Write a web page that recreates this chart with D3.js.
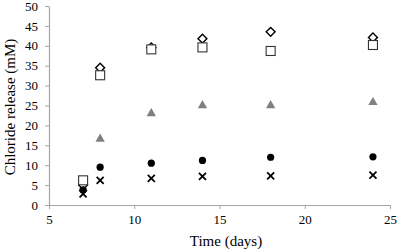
<!DOCTYPE html>
<html>
<head>
<meta charset="utf-8">
<script src="https://cdn.jsdelivr.net/npm/d3@7"></script>
<style>
  body { margin: 0; background: #fff; }
  text { font-family: "Liberation Serif", "Times New Roman", serif; fill: #000; }
</style>
</head>
<body>
<div id="chart"></div>
<script>
// data
var days = [7, 8, 11, 14, 18, 24];
var diamondVals = [5, 34.5, 39.6, 41.8, 43.5, 42.1];
var squareVals = [6.2, 32.6, 39.1, 39.6, 38.7, 40.2];
var triangleVals = [4.2, 16.6, 23, 25, 25, 25.8];
var circleVals = [3.8, 9.5, 10.5, 11.2, 12, 12.1];
var crossVals = [2.8, 6.2, 6.7, 7.2, 7.3, 7.5];
var xTicks = [5, 10, 15, 20, 25];
var yTicks = [0, 5, 10, 15, 20, 25, 30, 35, 40, 45, 50];

var width = 397;
var height = 249;

var xScale = d3.scaleLinear().domain([5, 25]).range([49, 390]);
var yScale = d3.scaleLinear().domain([0, 50]).range([205, 6]);

var svg = d3.select("#chart").append("svg")
  .attr("width", width)
  .attr("height", height);

/* axes */
var xAxis = d3.axisBottom(xScale).tickValues(xTicks).tickSize(4).tickSizeOuter(0);
var yAxis = d3.axisLeft(yScale).tickValues(yTicks).tickSize(4).tickSizeOuter(0);

var gx = svg.append("g")
  .attr("transform", "translate(0," + yScale(0) + ")")
  .call(xAxis);
gx.select(".domain").attr("stroke", "#a6a6a6").attr("stroke-width", 1.2);
gx.selectAll(".tick line").attr("stroke", "#a6a6a6");
gx.selectAll(".tick text").attr("font-size", 13).attr("y", 9).attr("dy", "0.8em")
  .attr("fill", "#000");

var gy = svg.append("g")
  .attr("transform", "translate(" + xScale(5) + ",0)")
  .call(yAxis);
gy.select(".domain").attr("stroke", "#a6a6a6").attr("stroke-width", 1.2);
gy.selectAll(".tick text").attr("font-size", 13).attr("x", -11)
  .attr("fill", "#000");
gy.selectAll(".tick line").attr("stroke", "#a6a6a6");

svg.append("text")
  .attr("x", 226)
  .attr("y", 246)
  .attr("text-anchor", "middle")
  .attr("font-size", 15)
  .text("Time (days)");

svg.append("text")
  .attr("transform", "translate(15,107) rotate(-90)")
  .attr("text-anchor", "middle")
  .attr("font-size", 15)
  .text("Chloride release (mM)");

/* markers */
function pts(vals) {
  return days.map(function(d, i) { return { x: d, y: vals[i] }; });
}

svg.append("g").selectAll("path")
  .data(pts(triangleVals)).enter()
  .append("path")
  .attr("transform", d => "translate(" + xScale(d.x) + "," + yScale(d.y) + ")")
  .attr("d", d3.symbol().type(d3.symbolTriangle).size(38))
  .attr("fill", "#808080");

svg.append("g").selectAll("path")
  .data(pts(diamondVals)).enter()
  .append("path")
  .attr("transform", d => "translate(" + xScale(d.x) + "," + yScale(d.y) + ") rotate(45)")
  .attr("d", d3.symbol().type(d3.symbolSquare).size(40))
  .attr("fill", "#fff")
  .attr("stroke", "#000")
  .attr("stroke-width", 1.4);

svg.append("g").selectAll("rect")
  .data(pts(squareVals)).enter()
  .append("rect")
  .attr("x", d => xScale(d.x) - 4.5)
  .attr("y", d => yScale(d.y) - 4.5)
  .attr("width", 9)
  .attr("height", 9)
  .attr("fill", "#fff")
  .attr("stroke", "#333")
  .attr("stroke-width", 1.1);

svg.append("g").selectAll("circle")
  .data(pts(circleVals)).enter()
  .append("circle")
  .attr("cx", d => xScale(d.x))
  .attr("cy", d => yScale(d.y))
  .attr("r", 3.6)
  .attr("fill", "#000");

svg.append("g").selectAll("path")
  .data(pts(crossVals)).enter()
  .append("path")
  .attr("transform", d => "translate(" + xScale(d.x) + "," + yScale(d.y) + ")")
  .attr("d", "M-3.5,-3.5L3.5,3.5M-3.5,3.5L3.5,-3.5")
  .attr("stroke", "#000")
  .attr("stroke-width", 1.8)
  .attr("fill", "none");
</script>
</body>
</html>
